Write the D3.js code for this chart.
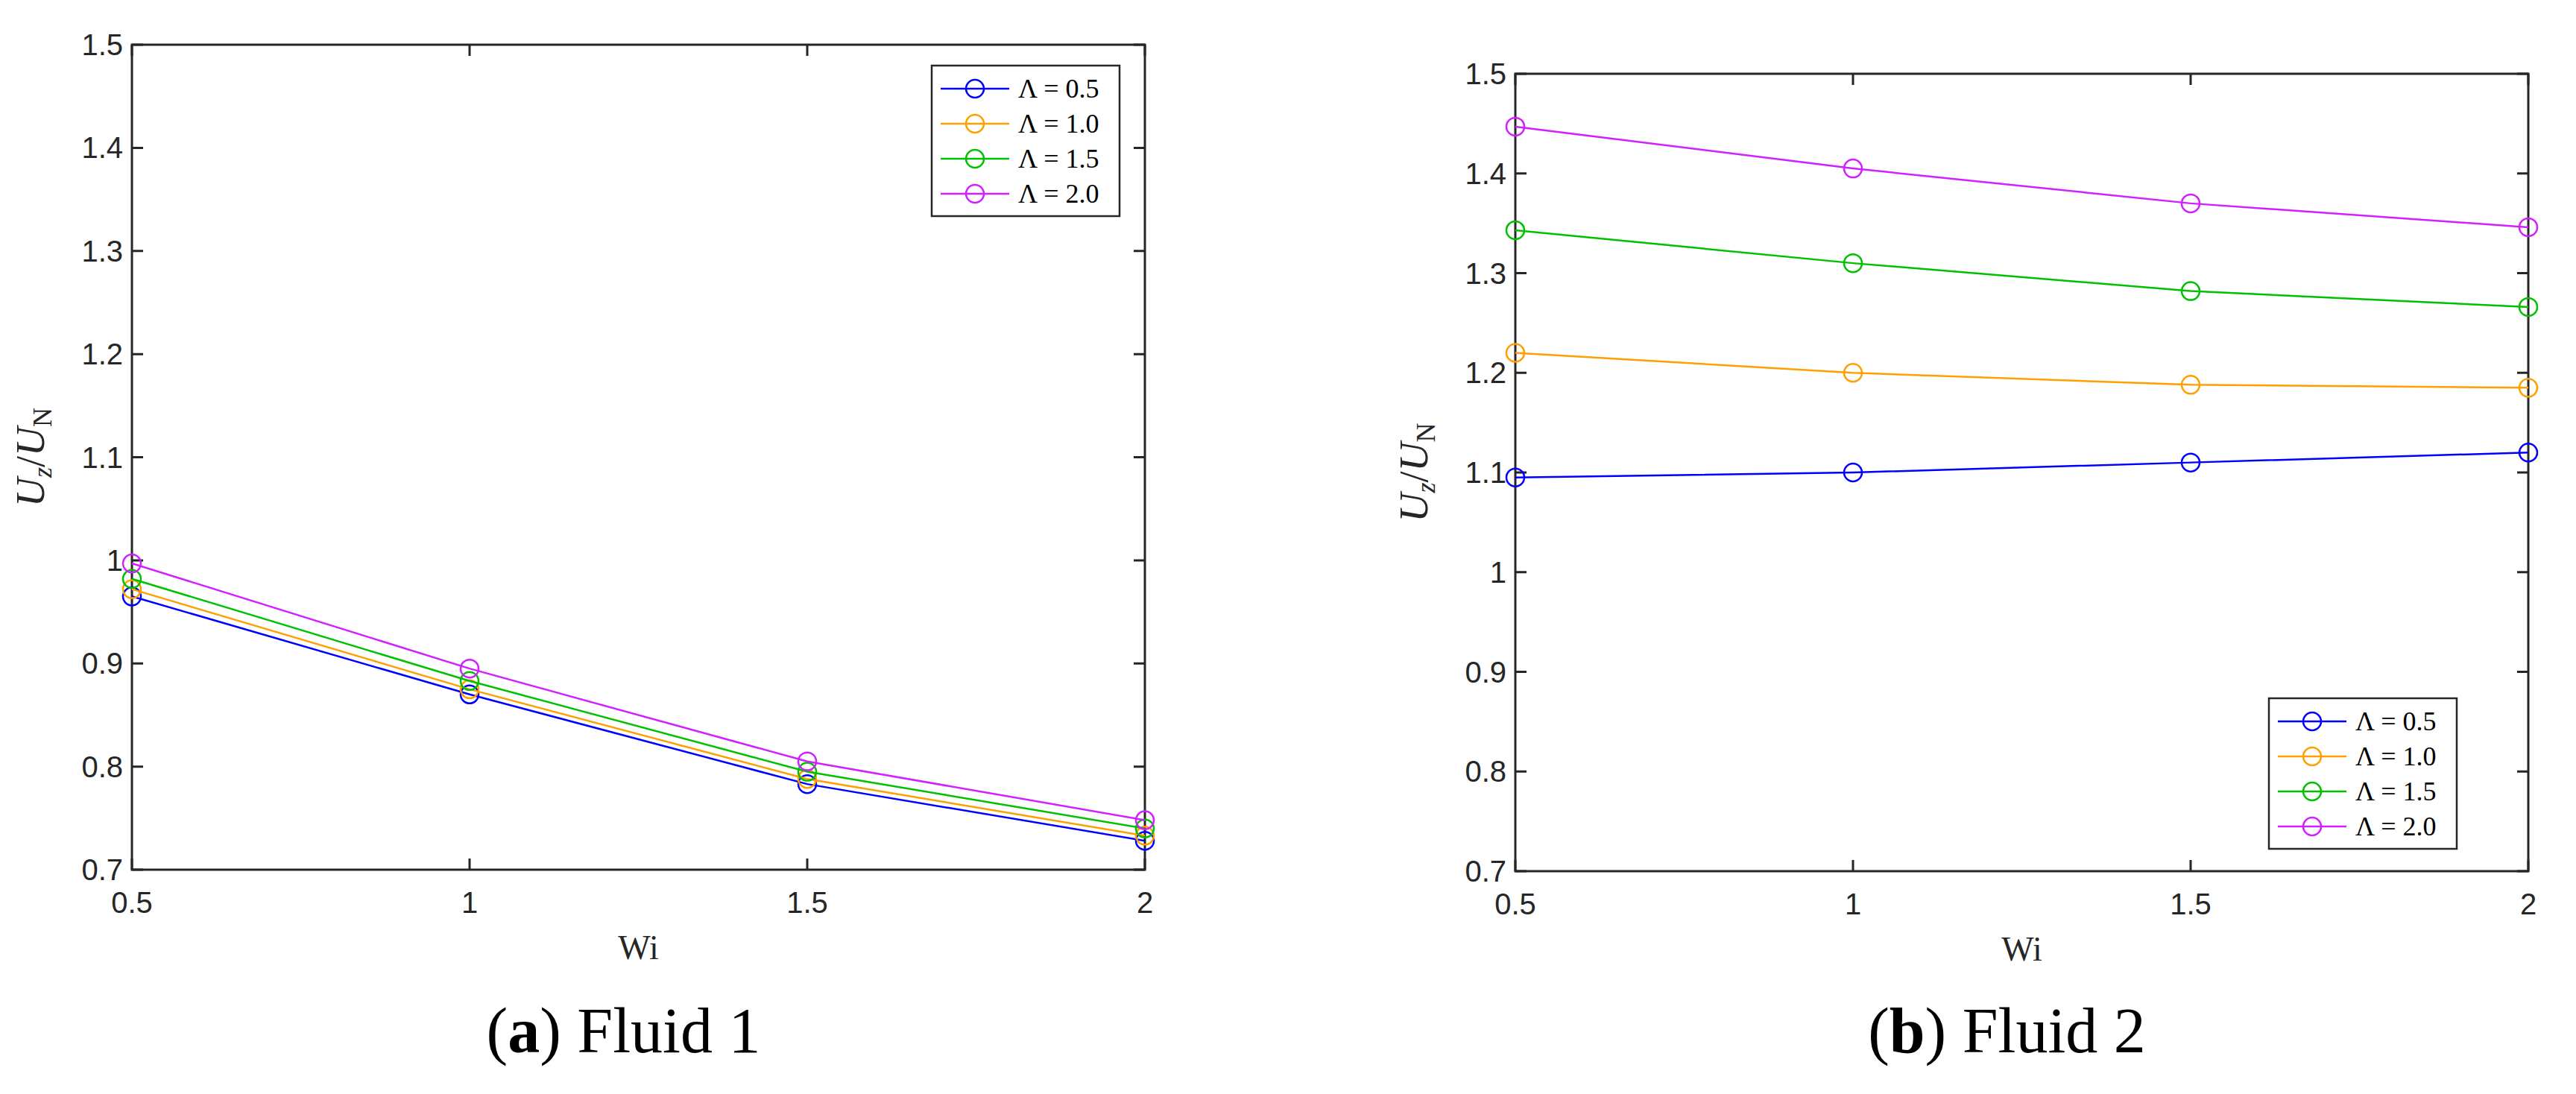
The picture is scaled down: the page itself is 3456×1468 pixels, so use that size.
<!DOCTYPE html>
<html><head><meta charset="utf-8">
<script src="https://cdn.jsdelivr.net/npm/d3@7"></script>
<style>body{margin:0;background:#fff}</style>
</head><body><svg id="fig" width="3456" height="1468"></svg>
<script>
var wi = [0.5, 1, 1.5, 2]
var lambdas = ['0.5', '1.0', '1.5', '2.0']
var colors = ['#0000ff', '#ff9f00', '#00c000', '#d21fff']
var yTicks = [0.7, 0.8, 0.9, 1, 1.1, 1.2, 1.3, 1.4, 1.5]
var xTicks = [0.5, 1, 1.5, 2]
var fluid1 = [
  [0.965, 0.870, 0.783, 0.728],
  [0.972, 0.875, 0.788, 0.733],
  [0.982, 0.883, 0.795, 0.740],
  [0.997, 0.895, 0.805, 0.748]
]
var fluid2 = [
  [1.095, 1.100, 1.110, 1.120],
  [1.220, 1.200, 1.188, 1.185],
  [1.343, 1.310, 1.282, 1.266],
  [1.447, 1.405, 1.370, 1.346]
]

var svg = d3.select('#fig')

function panel (data, box, legendPos, caption, letter) {
  var x = d3.scaleLinear().domain([0.5, 2]).range([box.l, box.r])
  var y = d3.scaleLinear().domain([0.7, 1.5]).range([box.b, box.t])
  var g = svg.append('g')

  g.append('rect').attr('x', box.l).attr('y', box.t)
    .attr('width', box.r - box.l).attr('height', box.b - box.t)
    .attr('fill', 'none').attr('stroke', '#262626').attr('stroke-width', 3)

  var tk = 15
  g.selectAll('.yt').data(yTicks).enter().append('path')
    .attr('d', function (d) { return 'M' + box.l + ',' + y(d) + 'h' + tk + 'M' + box.r + ',' + y(d) + 'h' + (-tk) })
    .attr('stroke', '#262626').attr('stroke-width', 3)
  g.selectAll('.xt').data(xTicks).enter().append('path')
    .attr('d', function (d) { return 'M' + x(d) + ',' + box.b + 'v' + (-tk) + 'M' + x(d) + ',' + box.t + 'v' + tk })
    .attr('stroke', '#262626').attr('stroke-width', 3)

  g.selectAll('.yl').data(yTicks).enter().append('text')
    .attr('x', box.l - 12).attr('y', function (d) { return y(d) + 14 })
    .attr('text-anchor', 'end').attr('font-family', 'Liberation Sans, Arial').attr('font-size', 40).attr('fill', '#262626')
    .text(function (d) { return d })
  g.selectAll('.xl').data(xTicks).enter().append('text')
    .attr('x', function (d) { return x(d) }).attr('y', box.b + 58)
    .attr('text-anchor', 'middle').attr('font-family', 'Liberation Sans, Arial').attr('font-size', 40).attr('fill', '#262626')
    .text(function (d) { return d })

  g.append('text').attr('x', (box.l + box.r) / 2).attr('y', box.b + 120)
    .attr('text-anchor', 'middle').attr('font-family', 'Liberation Serif, serif').attr('font-size', 46).attr('fill', '#262626')
    .text('Wi')

  var yl = g.append('text')
    .attr('transform', 'translate(' + (box.l - 118) + ',' + ((box.t + box.b) / 2) + ') rotate(-90)')
    .attr('text-anchor', 'middle').attr('font-family', 'Liberation Serif, serif').attr('font-size', 54).attr('fill', '#262626')
  yl.append('tspan').attr('font-style', 'italic').text('U')
  yl.append('tspan').attr('font-style', 'italic').attr('font-size', 36).attr('dy', 10).text('z')
  yl.append('tspan').attr('dy', -10).text('/')
  yl.append('tspan').attr('font-style', 'italic').text('U')
  yl.append('tspan').attr('font-size', 36).attr('dy', 10).text('N')

  var line = d3.line().x(function (d, i) { return x(wi[i]) }).y(function (d) { return y(d) })
  data.forEach(function (s, k) {
    g.append('path').attr('d', line(s)).attr('fill', 'none').attr('stroke', colors[k]).attr('stroke-width', 2.5)
    g.selectAll('.m' + k).data(s).enter().append('circle')
      .attr('cx', function (d, i) { return x(wi[i]) }).attr('cy', function (d) { return y(d) })
      .attr('r', 12).attr('fill', 'none').attr('stroke', colors[k]).attr('stroke-width', 2.5)
  })

  var lg = g.append('g').attr('transform', 'translate(' + legendPos[0] + ',' + legendPos[1] + ')')
  lg.append('rect').attr('width', 252).attr('height', 202).attr('fill', '#fff').attr('stroke', '#262626').attr('stroke-width', 2.5)
  lambdas.forEach(function (lam, k) {
    var ly = 31 + k * 47
    lg.append('line').attr('x1', 12).attr('x2', 104).attr('y1', ly).attr('y2', ly).attr('stroke', colors[k]).attr('stroke-width', 2.5)
    lg.append('circle').attr('cx', 58).attr('cy', ly).attr('r', 12).attr('fill', 'none').attr('stroke', colors[k]).attr('stroke-width', 2.5)
    lg.append('text').attr('x', 116).attr('y', ly + 12).attr('font-family', 'Liberation Serif, serif').attr('font-size', 36).attr('fill', '#000')
      .text('Λ = ' + lam)
  })

  var cap = g.append('text').attr('x', (box.l + box.r) / 2 - 20).attr('y', 1412)
    .attr('text-anchor', 'middle').attr('font-family', 'Liberation Serif, serif').attr('font-size', 86).attr('fill', '#000')
  cap.append('tspan').text('(')
  cap.append('tspan').attr('font-weight', 'bold').text(letter)
  cap.append('tspan').text(') ' + caption)
}

panel(fluid1, { l: 177, r: 1536, t: 60, b: 1167 }, [1250, 88], 'Fluid 1', 'a')
panel(fluid2, { l: 2033, r: 3392, t: 99, b: 1169 }, [3044, 937], 'Fluid 2', 'b')
</script></body></html>
